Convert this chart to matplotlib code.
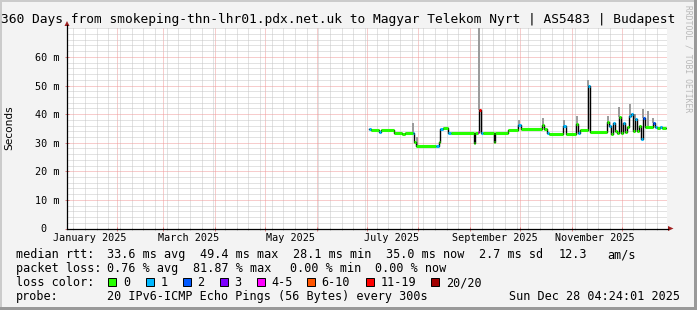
import matplotlib
matplotlib.use('Agg')
import matplotlib.pyplot as plt
import matplotlib.dates as mdates
from matplotlib.ticker import MultipleLocator
from matplotlib.patches import Rectangle, Polygon
from matplotlib.lines import Line2D
import matplotlib.transforms as mtransforms
from datetime import datetime, timedelta

W, H = 697, 310
plt.rcParams['font.family'] = ['DejaVu Sans Mono']

end = datetime(2025, 12, 28, 4, 24, 1)
start = end - timedelta(days=360)
base = datetime(2025, 1, 1)

title = '360 Days from smokeping-thn-lhr01.pdx.net.uk to Magyar Telekom Nyrt | AS5483 | Budapest'

# median rtt: day offset from 1 Jan 2025, value in ms, loss class index
med_day = [182.4, 183.6, 188.4, 189.6, 197.6, 202.4, 204.0, 208.6, 209.6, 210.6,
           222.6, 224.4, 225.2, 227.0, 229.6, 231.6, 245.4, 246.0, 247.8, 248.6,
           249.4, 250.6, 257.4, 258.0, 265.7, 271.7, 273.5, 286.1, 287.3, 289.1,
           290.3, 298.7, 300.5, 306.5, 307.7, 308.9, 313.7, 315.1, 325.1, 326.3,
           327.5, 328.7, 329.9, 331.1, 332.3, 333.5, 334.7, 335.9, 337.1, 338.3,
           339.5, 340.7, 341.9, 343.1, 344.3, 345.5, 346.7, 347.9, 352.7, 353.9,
           355.1, 356.9, 358.1]
med_ms = [34.7, 34.4, 33.7, 34.4, 33.5, 33.0, 33.5, 33.5, 30.3, 28.8,
          28.8, 30.3, 34.9, 35.0, 33.5, 33.5, 30.0, 33.4, 33.6, 41.4,
          33.3, 33.3, 30.3, 33.3, 34.4, 36.2, 34.8, 36.2, 34.8, 33.3,
          33.0, 35.8, 33.0, 36.5, 33.3, 34.4, 49.8, 33.8, 37.3, 36.0,
          33.2, 37.0, 34.0, 33.3, 39.0, 33.5, 37.0, 33.8, 35.5, 39.5,
          40.0, 34.0, 38.2, 34.2, 36.0, 31.2, 38.5, 35.6, 37.0, 35.5,
          35.2, 35.4, 35.2]
med_loss = [1, 0, 1, 0, 0, 0, 0, 1, 0, 0,
            1, 0, 1, 0, 1, 0, 0, 0, 4, 6,
            1, 0, 0, 0, 0, 1, 0, 0, 0, 1,
            0, 1, 0, 0, 1, 0, 1, 0, 0, 1,
            0, 1, 0, 0, 0, 0, 1, 0, 0, 1,
            1, 0, 1, 0, 0, 1, 2, 0, 2, 1,
            0, 1, 0]

# smoke (spread of the pings) where it is visible
smoke_day = [208.9, 211.3, 248.6, 272.3, 286.5, 299.3, 306.9, 313.9, 325.5,
             332.5, 338.9, 341.9, 346.9, 349.9, 352.7]
smoke_lo = [33.5, 28.8, 41.4, 36.2, 36.2, 35.8, 36.5, 49.8, 37.3,
            39.0, 39.5, 38.2, 38.5, 35.6, 37.0]
smoke_hi = [36.8, 31.9, 70.0, 38.0, 38.6, 38.0, 39.5, 52.0, 39.5,
            42.6, 43.5, 40.0, 41.7, 41.0, 38.5]

loss_labels = ['0', '1', '2', '3', '4-5', '6-10', '11-19', '20/20']
loss_colors = ['#26ff00', '#00b8ff', '#0059ff', '#7e00ff', '#ff00ff', '#ff5500', '#ff0000', '#a10000']
loss_label_x = [108, 145.5, 182.5, 219.5, 256.5, 306.5, 365.5, 431]

y_ticks = [0, 10, 20, 30, 40, 50, 60]
y_tick_labels = ['0  ', '10 m', '20 m', '30 m', '40 m', '50 m', '60 m']
month_labels = ['January 2025', 'March 2025', 'May 2025', 'July 2025',
                'September 2025', 'November 2025']
month_label_dates = [datetime(2025, 1, 16), datetime(2025, 3, 16), datetime(2025, 5, 16),
                     datetime(2025, 7, 16), datetime(2025, 9, 16), datetime(2025, 11, 15)]

rtt_row = [('median rtt:', 16), ('33.6 ms avg', 107.3), ('49.4 ms max', 200),
           ('28.1 ms min', 293.3), ('35.0 ms now', 386), ('2.7 ms sd', 479.3),
           ('12.3', 558.3), ('am/s', 607.7)]
loss_row = [('packet loss:', 16), ('0.76 % avg', 107.3), ('81.87 % max', 193.3),
            ('0.00 % min', 290), ('0.00 % now', 375)]


def fx(x):
    return x / W


def fy(y):
    return 1 - y / H


fig = plt.figure(figsize=(W / 100, H / 100), dpi=100, facecolor='#f3f3f3')

# outer shading frame
fig.add_artist(Rectangle((0, 0), 2 / W, 1, transform=fig.transFigure, color='#cbcbcb', lw=0))
fig.add_artist(Rectangle((0, 1 - 2 / H), 1, 2 / H, transform=fig.transFigure, color='#cbcbcb', lw=0))
fig.add_artist(Rectangle((1 - 3 / W, 0), 3 / W, 1, transform=fig.transFigure, color='#999999', lw=0))
fig.add_artist(Rectangle((0, 0), 1, 3 / H, transform=fig.transFigure, color='#999999', lw=0))

ax = fig.add_axes([fx(67), fy(228.5), 600 / W, 200.2 / H])
ax.set_facecolor('white')
ax.set_xlim(start, end)
ax.set_ylim(0, 70)

to_x = [mdates.date2num(base + timedelta(days=d)) for d in med_day]
smoke_x = [mdates.date2num(base + timedelta(days=d)) for d in smoke_day]
x_end = mdates.date2num(end)

ax.vlines(smoke_x, smoke_lo, smoke_hi, color='#9a9a9a', lw=1.4, zorder=3)
ax.step(to_x + [x_end - 0.4], med_ms + [med_ms[-1]], where='post', color='black', lw=1.0, zorder=4)
for i in range(len(to_x)):
    x1 = to_x[i + 1] if i + 1 < len(to_x) else x_end - 0.4
    ax.hlines(med_ms[i], to_x[i], x1, color=loss_colors[med_loss[i]], lw=2.2, zorder=5)

# grid
ax.xaxis.set_major_locator(mdates.MonthLocator())
ax.xaxis.set_minor_locator(mdates.WeekdayLocator(byweekday=mdates.MO))
ax.yaxis.set_major_locator(MultipleLocator(10))
ax.yaxis.set_minor_locator(MultipleLocator(2))
ax.grid(which='minor', color='#c6c6c6', ls=(0, (1, 1)), lw=0.72, zorder=1)
ax.grid(which='major', color='#f09a9a', ls=(0, (1, 1)), lw=0.72, zorder=2)
ax.set_axisbelow(True)
ax.set_xticklabels([])
ax.tick_params(axis='x', which='major', direction='inout', length=3, width=0.72, color='#e08080')
ax.tick_params(axis='x', which='minor', direction='inout', length=2, width=0.72, color='#bbbbbb')
ax.set_yticks(y_ticks)
ax.set_yticklabels(y_tick_labels, fontsize=7.3)
ax.tick_params(axis='y', which='major', direction='inout', length=3, width=0.72,
               color='#e08080', pad=3.8)
ax.tick_params(axis='y', which='minor', length=0)

for s in ['top', 'right', 'left', 'bottom']:
    ax.spines[s].set_visible(False)

# axis lines with arrows
fig.add_artist(Line2D([fx(67), fx(668)], [fy(228.5), fy(228.5)], transform=fig.transFigure,
                      color='black', lw=0.9))
fig.add_artist(Line2D([fx(67), fx(67)], [fy(228.5), fy(25)], transform=fig.transFigure,
                      color='black', lw=0.9))
fig.add_artist(Polygon([(fx(668), fy(226)), (fx(668), fy(231)), (fx(673.5), fy(228.5))],
                       closed=True, transform=fig.transFigure, color='#a02020', lw=0))
fig.add_artist(Polygon([(fx(64.5), fy(26)), (fx(69.5), fy(26)), (fx(67), fy(21))],
                       closed=True, transform=fig.transFigure, color='#a02020', lw=0))

trans = mtransforms.blended_transform_factory(ax.transData, fig.transFigure)
for lab, d in zip(month_labels, month_label_dates):
    ax.text(d, fy(241), lab, transform=trans, ha='center', va='baseline', fontsize=7.3,
            clip_on=False)

fig.text(fx(1), fy(22.5), title, ha='left', va='baseline', fontsize=9.31)
fig.text(fx(9), fy(128), 'Seconds', rotation=90, ha='center', va='center', fontsize=7.6,
         family='DejaVu Sans')
fig.text(fx(688), fy(5), 'RRDTOOL / TOBI OETIKER', rotation=-90, ha='center', va='top',
         fontsize=5.8, color='#b8b8b8')

for txt, x in rtt_row:
    fig.text(fx(x), fy(258), txt, ha='left', va='baseline', fontsize=8.5)
for txt, x in loss_row:
    fig.text(fx(x), fy(272), txt, ha='left', va='baseline', fontsize=8.5)
fig.text(fx(16), fy(286), 'loss color:', ha='left', va='baseline', fontsize=8.5)
for lab, col, x in zip(loss_labels, loss_colors, loss_label_x):
    fig.add_artist(Rectangle((fx(x), fy(286)), 8 / W, 8 / H, transform=fig.transFigure,
                             facecolor=col, edgecolor='black', lw=0.7))
    fig.text(fx(x + 15), fy(286), lab, ha='left', va='baseline', fontsize=8.5)
fig.text(fx(16), fy(300), 'probe:', ha='left', va='baseline', fontsize=8.5)
fig.text(fx(107.3), fy(300), '20 IPv6-ICMP Echo Pings (56 Bytes) every 300s', ha='left',
         va='baseline', fontsize=8.5)
fig.text(fx(680), fy(300), 'Sun Dec 28 04:24:01 2025', ha='right', va='baseline', fontsize=8.5)

fig.savefig('out.png', dpi=100, facecolor=fig.get_facecolor())
